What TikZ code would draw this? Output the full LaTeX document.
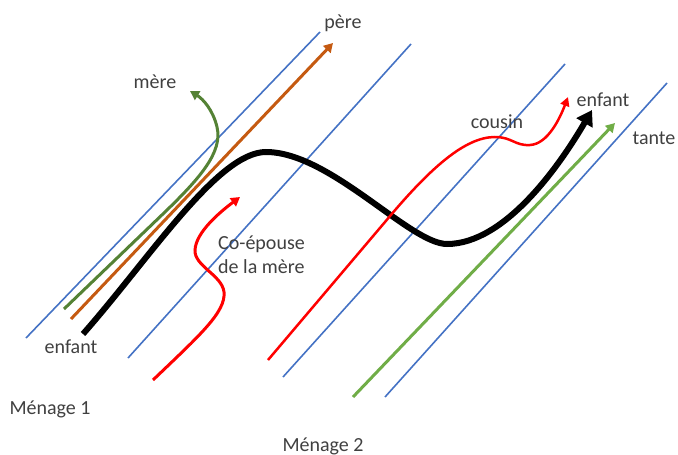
\documentclass[tikz,border=0pt]{standalone}
\usepackage{fontspec}
\setmainfont{Carlito}
\usetikzlibrary{arrows.meta}
\definecolor{ublue}{HTML}{4472C4}
\definecolor{uorange}{HTML}{C55A11}
\definecolor{udgreen}{HTML}{548235}
\definecolor{ulgreen}{HTML}{70AD47}
\definecolor{ured}{HTML}{FF0000}
\definecolor{utext}{HTML}{404040}
\tikzset{
  bl/.style={ublue, line width=1.6pt},
  lin/.style={line width=3pt, -{Triangle[length=9pt,width=10pt]}},
  big/.style={black, line width=6pt, -{Triangle[length=15pt,width=18pt]}},
  lbl/.style={text=utext, font=\fontsize{20}{24}\selectfont, inner sep=0pt},
}
\begin{document}
\begin{tikzpicture}[x=1pt,y=-1pt]
\useasboundingbox (0,0) rectangle (678,455);
% blue household lines
\draw[bl] (26,338) -- (320,32);
\draw[bl] (128,358) -- (411,44);
\draw[bl] (283,377) -- (565,64);
\draw[bl] (385,397) -- (667,83);
% mere
\draw[lin, udgreen] (64,309) -- (165,212) .. controls (200,178) and (223,152) .. (217,127) .. controls (213,110) and (203,99) .. (190,91);
% pere
\draw[lin, uorange] (71,319) -- (333,43);
% child
\draw[big] (83,334) .. controls (150,258) and (218,152) .. (266,152) .. controls (330,152) and (410,244) .. (447,244) .. controls (505,244) and (560,165) .. (592,110);
% co-epouse
\draw[lin, ured] (153,380) .. controls (200,335) and (226,312) .. (224,292) .. controls (222,275) and (194,266) .. (195,250) .. controls (196,232) and (220,212) .. (240,197);
% cousin
\draw[ured, line width=2.5pt, -{Triangle[length=9pt,width=9pt]}] (268,360) -- (385,222) .. controls (430,168) and (465,137) .. (495,137) .. controls (512,137) and (515,146) .. (530,145) .. controls (548,144) and (560,118) .. (568,97);
% tante
\draw[lin, ulgreen] (353,397) -- (615,123);
% labels
\node[lbl] (pere) at (343,23) {père};
\node[lbl] (mere) at (155,82) {mère};
\node[lbl] (enf2) at (603,100) {enfant};
\node[lbl] (cous) at (497,122) {cousin};
\node[lbl] (tante) at (654,138) {tante};
\node[lbl, align=left, anchor=west] (coep) at (218,255) {Co-épouse\\de la mère};
\node[lbl] (enf1) at (71,347) {enfant};
\node[lbl] (men1) at (50,409) {Ménage 1};
\node[lbl] (men2) at (323,446) {Ménage 2};
\end{tikzpicture}
\end{document}
